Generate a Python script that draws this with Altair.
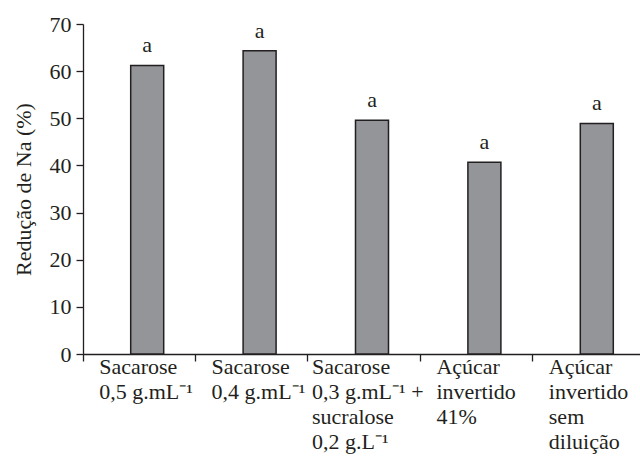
import altair as alt
import pandas as pd

# Treatments (line breaks marked with "|") and sodium reduction values
categories = [
    "Sacarose|0,5 g.mL⁻¹",
    "Sacarose|0,4 g.mL⁻¹",
    "Sacarose|0,3 g.mL⁻¹ +|sucralose|0,2 g.L⁻¹",
    "Açúcar|invertido|41%",
    "Açúcar|invertido|sem|diluição",
]
reducao = [61.2, 64.3, 49.6, 40.7, 48.9]
letras = ["a", "a", "a", "a", "a"]

df = pd.DataFrame({"trat": categories, "red": reducao, "letra": letras})

FONT = "Liberation Serif"
INK = "#231f20"

x_enc = alt.X(
    "trat:N",
    sort=categories,
    scale=alt.Scale(range=[0, 562], paddingInner=0, paddingOuter=0),
    axis=alt.Axis(
        title=None,
        labelAngle=0,
        bandPosition=0,
        labelAlign="left",
        labelBaseline="top",
        labelOffset={"condition": {"test": f"datum.value == '{categories[2]}'", "value": -52}, "value": -40},
        labelExpr="split(datum.label, '|')",
        labelLineHeight=25,
        labelPadding=-5,
        tickSize=7,
        labelFlush=False,
        labelOverlap=False,
    ),
)

y_enc = alt.Y(
    "red:Q",
    scale=alt.Scale(domain=[0, 70], nice=False),
    axis=alt.Axis(
        title="Redução de Na (%)",
        values=[0, 10, 20, 30, 40, 50, 60, 70],
        tickSize=7,
        labelPadding=5,
        titlePadding=14,
        grid=False,
    ),
)

bars = alt.Chart(df).mark_bar(
    width=33, xOffset=8, color="#939598", stroke=INK, strokeWidth=1.5
).encode(x=x_enc, y=y_enc)

texts = alt.Chart(df).mark_text(
    xOffset=8, dy=-13, baseline="alphabetic", font=FONT, fontSize=22, color=INK
).encode(x=x_enc, y="red:Q", text="letra:N")

chart = (
    alt.layer(bars, texts)
    .properties(
        width=557,
        height=330,
        autosize=alt.AutoSizeParams(type="none"),
        padding={"left": 83, "top": 24, "right": 0, "bottom": 108},
    )
    .configure_view(stroke=None)
    .configure_axis(
        labelFont=FONT,
        labelFontSize=22,
        labelColor=INK,
        titleFont=FONT,
        titleFontSize=22,
        titleFontWeight="normal",
        titleColor=INK,
        domainColor=INK,
        tickColor=INK,
        domainWidth=1.3,
        tickWidth=1.3,
    )
)

chart.save("out.html", embed_options={"renderer": "svg", "actions": False})
